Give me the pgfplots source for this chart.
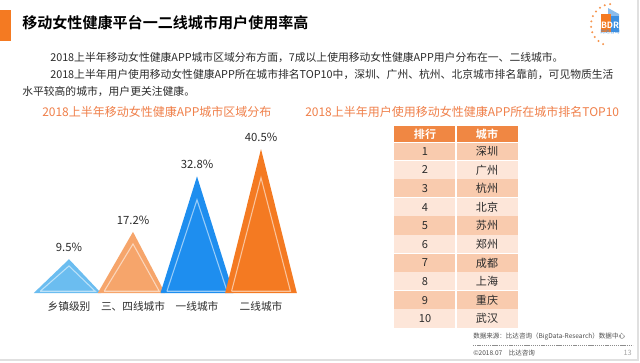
\documentclass[border=0pt]{standalone}
\usepackage{fontspec}
\setmainfont{Noto Sans CJK SC}[BoldFont={Noto Sans CJK SC Bold}]
\usepackage{pgfplots}
\pgfplotsset{compat=1.18}
\definecolor{orgbar}{HTML}{F47A22}
\definecolor{subt}{HTML}{F0804A}
\definecolor{txt}{HTML}{2B2B2B}
\definecolor{cA}{HTML}{6BBDF0}
\definecolor{cB}{HTML}{F6A56B}
\definecolor{cC}{HTML}{1E8EEF}
\definecolor{cD}{HTML}{F47A22}
\definecolor{thead}{HTML}{F08743}
\definecolor{rowA}{HTML}{F9CBAE}
\definecolor{rowB}{HTML}{FDE6D9}
\definecolor{logoblue}{HTML}{3D8FE0}
\begin{document}
\begin{tikzpicture}[x=0.75pt,y=0.75pt]
\useasboundingbox (0,0) rectangle (640,362);
\fill[white] (0,0) rectangle (640,362);
\draw[black!12, line width=1.2pt] (0,2) -- (638,2) -- (638,362);
% title bar
\fill[orgbar] (0,352) rectangle (11,321);
\node[anchor=west, text=black, font=\fontsize{11.3}{13}\selectfont\bfseries, inner sep=0pt] at (22,339) {移动女性健康平台一二线城市用户使用率高};
% logo
\foreach \a in {95,110,...,245} {\fill[orgbar!80] ({612+21*cos(\a)},{337+21*sin(\a)}) circle (1.1);}
\fill[logoblue!60] (608,354) -- (619,348) -- (619,330) -- (608,330) -- cycle;
\fill[orgbar] (601,348) rectangle (611,330);
\fill[logoblue] (611,346) rectangle (619,330);
\node[text=white, font=\fontsize{6.5}{7}\selectfont\bfseries, inner sep=0pt] at (610,337) {BDR};
\node[text=logoblue, font=\fontsize{3.6}{4}\selectfont, inner sep=0pt] at (610,330) {比达咨询};
% body text
\node[anchor=west, text=txt, font=\fontsize{8.1}{10}\selectfont, inner sep=0pt] at (50,305) {2018上半年移动女性健康APP城市区域分布方面，7成以上使用移动女性健康APP用户分布在一、二线城市。};
\node[anchor=west, text=txt, font=\fontsize{8.1}{10}\selectfont, inner sep=0pt] at (50,288) {2018上半年用户使用移动女性健康APP所在城市排名TOP10中，深圳、广州、杭州、北京城市排名靠前，可见物质生活};
\node[anchor=west, text=txt, font=\fontsize{8.1}{10}\selectfont, inner sep=0pt] at (22,271) {水平较高的城市，用户更关注健康。};
% subtitles
\node[anchor=west, text=subt, font=\fontsize{9}{10}\selectfont, inner sep=0pt] at (42,250) {2018上半年移动女性健康APP城市区域分布};
\node[anchor=west, text=subt, font=\fontsize{9}{10}\selectfont, inner sep=0pt] at (305,250) {2018上半年用户使用移动女性健康APP所在城市排名TOP10};
% chart
\begin{axis}[at={(22.95pt,51.75pt)}, anchor=south west, scale only axis,
  width=201.6pt, height=112pt,
  xmin=-0.6, xmax=3.6, ymin=0, ymax=42, clip=false,
  axis line style={draw=none}, major tick length=0pt,
  xtick={0,1,2,3}, xticklabels={乡镇级别,三、四线城市,一线城市,二线城市},
  ytick=\empty,
  xticklabel style={font=\fontsize{8}{9}\selectfont, text=txt, yshift=-3pt}]
\addplot[fill=cA, draw=none] coordinates {(-0.55,0) (0,9.5) (0.5,0)} \closedcycle;
\addplot[draw=white, draw opacity=0.55, line width=0.8pt] coordinates {(-0.45,0.5) (0,7.6) (0.41,0.5) (-0.45,0.5)};
\addplot[fill=cB, draw=none] coordinates {(0.45,0) (1,17.2) (1.5,0)} \closedcycle;
\addplot[draw=white, draw opacity=0.55, line width=0.8pt] coordinates {(0.55,0.5) (1,13.8) (1.41,0.5) (0.55,0.5)};
\addplot[fill=cC, draw=none] coordinates {(1.43,0) (2,32.8) (2.57,0)} \closedcycle;
\addplot[draw=white, draw opacity=0.55, line width=0.8pt] coordinates {(1.53,0.5) (2,26.2) (2.47,0.5) (1.53,0.5)};
\addplot[fill=cD, draw=none] coordinates {(2.44,0) (3,40.5) (3.56,0)} \closedcycle;
\addplot[draw=white, draw opacity=0.55, line width=0.8pt] coordinates {(2.54,0.5) (3,32.4) (3.46,0.5) (2.54,0.5)};
\addplot[draw=none, point meta=explicit symbolic, nodes near coords,
  nodes near coords style={font=\fontsize{8.5}{10}\selectfont, text=txt, anchor=south, yshift=2pt}]
  coordinates {(0,9.5)[9.5\%] (1,17.2)[17.2\%] (2,32.8)[32.8\%] (3,40.5)[40.5\%]};
\end{axis}
% table
\fill[thead] (394,236) rectangle (518,220);
\node[text=white, font=\fontsize{8.3}{9}\selectfont\bfseries] at (425,228) {排行};
\node[text=white, font=\fontsize{8.3}{9}\selectfont\bfseries] at (487,228) {城市};
\foreach \c [count=\i] in {深圳,广州,杭州,北京,苏州,郑州,成都,上海,重庆,武汉} {
  \pgfmathsetmacro{\yt}{220-18.6*(\i-1)}
  \pgfmathsetmacro{\yb}{220-18.6*\i}
  \pgfmathsetmacro{\ym}{220-18.6*(\i-0.5)}
  \pgfmathtruncatemacro{\odd}{mod(\i,2)}
  \ifnum\odd=1 \fill[rowA] (394,\yt) rectangle (518,\yb); \else \fill[rowB] (394,\yt) rectangle (518,\yb); \fi
  \draw[white, line width=0.6pt] (394,\yb) -- (518,\yb);
  \node[text=txt, font=\fontsize{8.3}{9}\selectfont] at (425,\ym) {\i};
  \node[text=txt, font=\fontsize{8.3}{9}\selectfont] at (487,\ym) {\c};
}
\draw[white, line width=0.8pt] (456,236) -- (456,34);
\draw[white, line width=0.6pt] (394,220) -- (518,220);
% footer
\node[anchor=west, text=black!70, font=\fontsize{4.9}{6}\selectfont, inner sep=0pt] at (473,25) {数据来源：比达咨询（BigData-Research）数据中心};
\draw[black!45, line width=0.5pt, dash pattern=on 1pt off 0.6pt] (473,17) -- (633,17);
\node[anchor=west, text=black!70, font=\fontsize{4.9}{6}\selectfont, inner sep=0pt] at (473,9) {©2018.07\quad 比达咨询};
\node[anchor=east, text=black!35, font=\fontsize{5.5}{6}\selectfont, inner sep=0pt] at (632,9) {13};
\end{tikzpicture}
\end{document}
